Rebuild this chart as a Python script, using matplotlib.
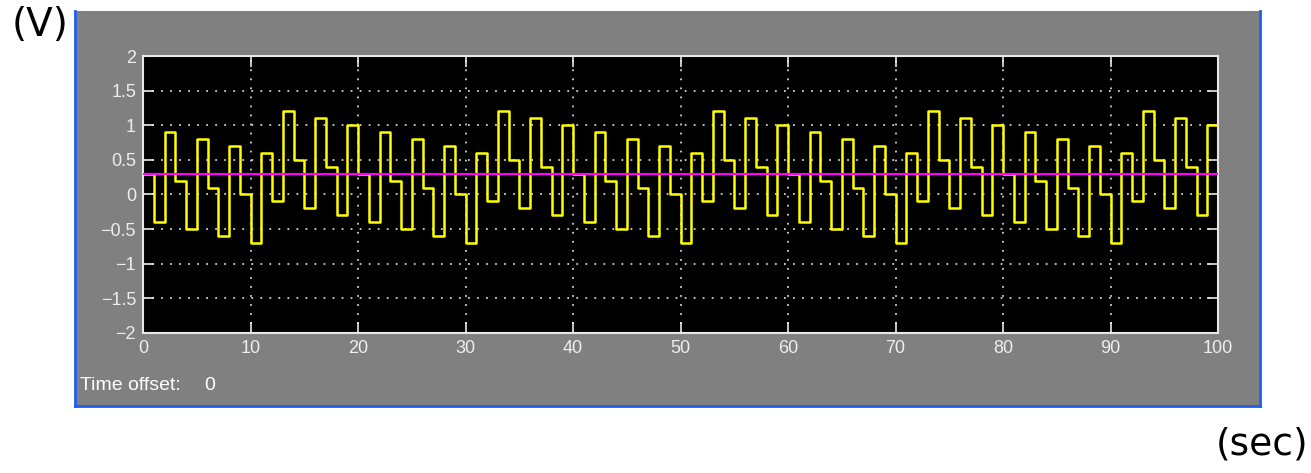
import numpy as np
import matplotlib.pyplot as plt
from matplotlib.patches import Rectangle
from matplotlib.lines import Line2D

# scope trace: one sample per second, held between samples (t = 0 .. 100)
time_s = np.arange(0, 101)
volts = [
    0.3, -0.4, 0.9, 0.2, -0.5, 0.8, 0.1, -0.6, 0.7, 0.0, -0.7, 0.6, -0.1, 1.2, 0.5, -0.2, 1.1, 0.4, -0.3, 1.0,
    0.3, -0.4, 0.9, 0.2, -0.5, 0.8, 0.1, -0.6, 0.7, 0.0, -0.7, 0.6, -0.1, 1.2, 0.5, -0.2, 1.1, 0.4, -0.3, 1.0,
    0.3, -0.4, 0.9, 0.2, -0.5, 0.8, 0.1, -0.6, 0.7, 0.0, -0.7, 0.6, -0.1, 1.2, 0.5, -0.2, 1.1, 0.4, -0.3, 1.0,
    0.3, -0.4, 0.9, 0.2, -0.5, 0.8, 0.1, -0.6, 0.7, 0.0, -0.7, 0.6, -0.1, 1.2, 0.5, -0.2, 1.1, 0.4, -0.3, 1.0,
    0.3, -0.4, 0.9, 0.2, -0.5, 0.8, 0.1, -0.6, 0.7, 0.0, -0.7, 0.6, -0.1, 1.2, 0.5, -0.2, 1.1, 0.4, -0.3, 1.0,
    0.3,
]
mean_level = 0.3

x_ticks = [0, 10, 20, 30, 40, 50, 60, 70, 80, 90, 100]
y_ticks = [-2, -1.5, -1, -0.5, 0, 0.5, 1, 1.5, 2]
y_tick_labels = ['\u22122', '\u22121.5', '\u22121', '\u22120.5', '0', '0.5', '1', '1.5', '2']

fig = plt.figure(figsize=(13.11, 4.73), dpi=100)

# gray scope window with blue frame
fig.patches.append(Rectangle((0.0572, 0.1416), 0.9039, 0.8351, transform=fig.transFigure,
                             facecolor='#808080', edgecolor='none', zorder=-5))
blue = '#1f5ef0'
fig.lines.append(Line2D([0.0572, 0.0572], [0.1416, 0.9767], transform=fig.transFigure, color=blue, lw=2))
fig.lines.append(Line2D([0.9611, 0.9611], [0.1416, 0.9767], transform=fig.transFigure, color=blue, lw=2))
fig.lines.append(Line2D([0.0572, 0.9611], [0.1416, 0.1416], transform=fig.transFigure, color=blue, lw=2))

ax = fig.add_axes([0.1091, 0.2960, 0.8200, 0.5856])
ax.set_facecolor('black')

ax.step(time_s, volts, where='post', color='#ffff00', lw=1.8, zorder=3)
ax.axhline(mean_level, color='#ff00ff', lw=1.6, zorder=4)

ax.set_xlim(0, 100)
ax.set_ylim(-2, 2)
ax.set_xticks(x_ticks)
ax.set_yticks(y_ticks)
ax.set_yticklabels(y_tick_labels)

ax.grid(True, color='#d0d0d0', linestyle=(0, (1, 4)), lw=1.3)
ax.tick_params(direction='in', length=8, width=1.2, color='#e8e8e8',
               top=True, right=True, labelcolor='#eeeeee', labelsize=13, pad=5)
for lab in ax.get_xticklabels() + ax.get_yticklabels():
    lab.set_family('Liberation Sans')
for sp in ax.spines.values():
    sp.set_color('#e8e8e8')
    sp.set_linewidth(1.5)

fig.text(0.061, 0.184, 'Time offset:', color='white', fontsize=14, family='Liberation Sans', va='center')
fig.text(0.156, 0.184, '0', color='white', fontsize=14, family='Liberation Sans', va='center')

# unit labels outside the scope window
fig.text(0.009, 0.948, '(V)', color='black', fontsize=28, va='center', ha='left')
fig.text(0.998, 0.060, '(sec)', color='black', fontsize=27, va='center', ha='right')

fig.savefig('out.png', dpi=100, facecolor='white')
